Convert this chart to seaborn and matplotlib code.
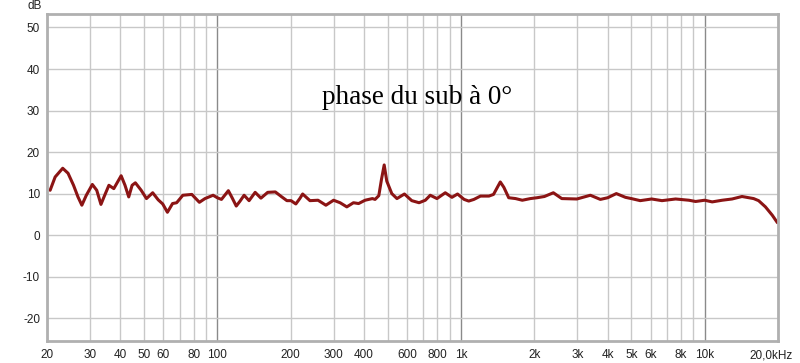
import matplotlib
matplotlib.use("Agg")
import matplotlib.pyplot as plt
import matplotlib.transforms as mtransforms
import seaborn as sns
import pandas as pd

# Frequency response data (Hz, dB)
freq = [20.6, 21.6, 23.2, 24.4, 25.7, 26.8, 27.8, 29.0, 30.7, 32.0, 33.3, 34.5,
        35.9, 37.6, 40.3, 41.8, 43.3, 44.7, 46.1, 48.7, 51.2, 54.3, 57.2, 59.7,
        62.4, 65.5, 68.1, 72.2, 78.6, 84.4, 89.0, 96.1, 100, 104,
        111, 115, 119.6, 124, 128.8, 135, 143, 151, 161, 173, 183, 193, 200.7,
        210, 218, 224, 240, 259, 279, 300, 319, 340, 362, 380, 404, 433, 444,
        460, 472, 484, 496, 520, 546, 586, 628, 673, 714, 748, 797, 862, 918,
        968, 1030, 1076, 1130, 1202, 1302, 1360, 1410, 1450, 1500, 1570, 1675,
        1785, 1927, 2050, 2200, 2394, 2592, 2990, 3396, 3732, 4000, 4340, 4730,
        5000, 5440, 6060, 6680, 7600, 8620, 9180, 10000, 10740, 11800, 12960,
        14230, 15880, 16650, 17760, 18940, 19880]
level = [10.8, 14.0, 16.1, 14.9, 12.0, 9.2, 7.2, 9.6, 12.2, 10.8, 7.4, 9.6,
         12.0, 11.2, 14.3, 12.0, 9.2, 12.0, 12.6, 10.8, 8.8, 10.2, 8.5, 7.5,
         5.5, 7.6, 7.8, 9.6, 9.8, 7.9, 8.8, 9.6, 9.0, 8.6,
         10.7, 9.0, 7.0, 8.2, 9.6, 8.3, 10.3, 8.9, 10.3, 10.4, 9.3, 8.3, 8.3,
         7.5, 8.8, 9.9, 8.3, 8.4, 7.2, 8.4, 7.8, 6.8, 7.8, 7.6, 8.4, 8.8, 8.6,
         9.5, 13.5, 16.9, 13.0, 10.0, 8.8, 9.9, 8.3, 7.8, 8.4, 9.6, 8.8, 10.2, 9.1,
         9.9, 8.6, 8.2, 8.6, 9.4, 9.4, 9.8, 11.5, 12.8, 11.5, 9.0, 8.8,
         8.4, 8.8, 9.0, 9.3, 10.2, 8.8, 8.7, 9.6, 8.6, 9.0, 10.0, 9.1,
         8.8, 8.3, 8.7, 8.3, 8.7, 8.4, 8.1, 8.4, 8.0, 8.4, 8.7,
         9.3, 8.8, 8.3, 6.8, 4.8, 3.0]

xticks = [20, 30, 40, 50, 60, 80, 100, 200, 300, 400, 600, 800, 1000,
          2000, 3000, 4000, 5000, 6000, 8000, 10000, 20000]
xtick_labels = ["20", "30", "40", "50", "60", "80", "100", "200", "300", "400",
                "600", "800", "1k", "2k", "3k", "4k", "5k", "6k", "8k", "10k",
                "20,0kHz"]
yticks = [-20, -10, 0, 10, 20, 30, 40, 50]
title_text = "phase du sub à 0°"

df = pd.DataFrame({"freq": freq, "level": level})

sns.set_style("white")
plt.rcParams["font.family"] = ["Liberation Sans", "DejaVu Sans"]

fig = plt.figure(figsize=(8.0, 3.63), dpi=100)
ax = fig.add_axes([47/800, 22/363, 731/800, 327/363])

ax.set_xscale("log")
ax.set_xlim(20, 20000)
ax.set_ylim(-25.5, 53.25)

# grid lines
minor_grid = []
for dec in [10, 100, 1000, 10000]:
    for m in range(2, 10):
        v = dec * m
        if 20 <= v <= 20000:
            minor_grid.append(v)
for v in minor_grid:
    ax.axvline(v, color="#c8c8c8", lw=1.0, zorder=1)
for v in [100, 1000, 10000]:
    ax.axvline(v, color="#8a8a8a", lw=1.0, zorder=1)
for v in yticks:
    ax.axhline(v, color="#c8c8c8", lw=1.0, zorder=1)

sns.lineplot(data=df, x="freq", y="level", ax=ax, color="#8B1414",
             lw=2.2, zorder=3, legend=False, solid_joinstyle="round",
             solid_capstyle="round")

ax.set_xticks(xticks)
ax.set_xticklabels(xtick_labels)
ax.set_xticks([], minor=True)
ax.set_yticks(yticks)
ax.set_yticklabels([str(v) for v in yticks])
ax.tick_params(axis="both", length=0, labelsize=8.5, colors="#222222")
ax.tick_params(axis="x", pad=6)
ax.tick_params(axis="y", pad=5)
ax.set_xlabel("")
ax.set_ylabel("")

# shift the last label a little to the left like the reference
lbls = ax.get_xticklabels()
off = mtransforms.ScaledTranslation(-7/100, 0, fig.dpi_scale_trans)
lbls[-1].set_transform(lbls[-1].get_transform() + off)

for s in ax.spines.values():
    s.set_color("#b0b0b0")
    s.set_linewidth(2.0)
    s.set_zorder(4)

fig.text(42/800, 1 - 6/363, "dB", ha="right", va="center", fontsize=8.5,
         color="#222222")
fig.text(417/800, 1 - 97/363, title_text,
         ha="center", va="center", fontsize=19.5, family=["Liberation Serif"],
         color="black")

fig.savefig("out.png", dpi=100)
